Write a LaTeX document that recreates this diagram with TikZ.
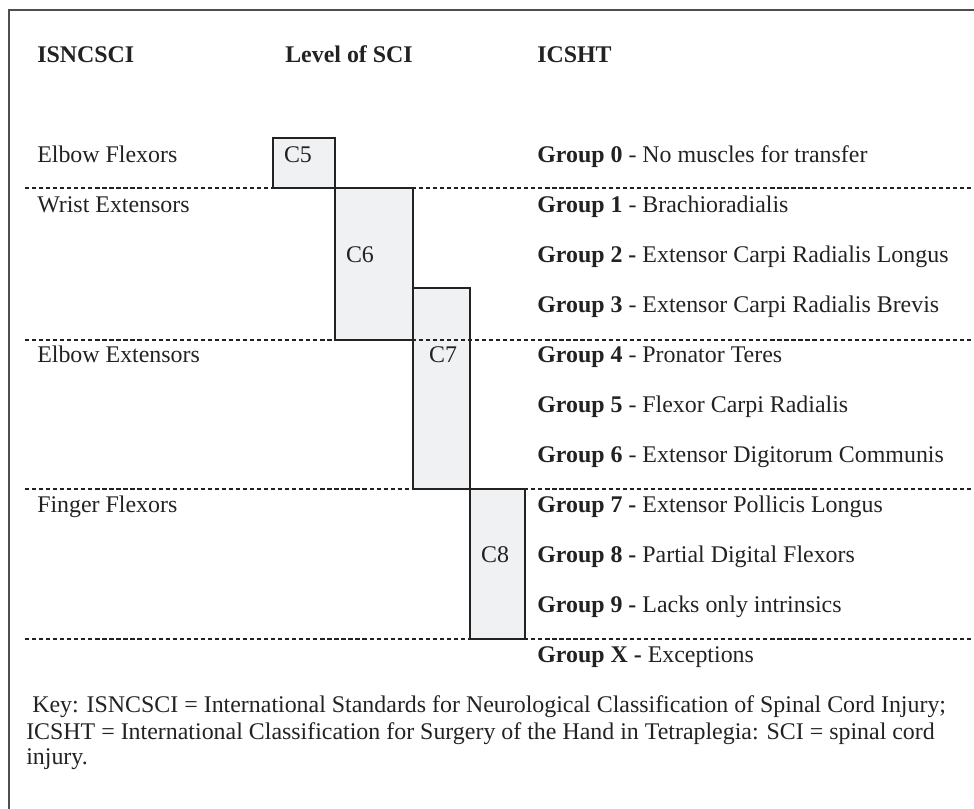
\documentclass[tikz,border=0pt]{standalone}
\usepackage{fontspec}
\setmainfont{Liberation Serif}
\usetikzlibrary{positioning}
\definecolor{boxfill}{HTML}{F0F1F3}
\definecolor{ink}{HTML}{222222}

\begin{document}
\begin{tikzpicture}[x=0.025cm,y=-0.025cm,
   txt/.style={anchor=base west,inner sep=0pt,text=ink,font=\fontsize{17}{20}\selectfont},
   hdr/.style={txt,font=\fontsize{17}{20}\selectfont\bfseries},
   lvl/.style={anchor=base,inner sep=0pt,text=ink,font=\fontsize{17}{20}\selectfont},
   levelbox/.style={draw=ink,line width=1.4pt,fill=boxfill},
   sep/.style={ink,line width=1pt,dash pattern=on 3pt off 2pt}]
   \useasboundingbox (0,0) rectangle (974,809);
   \draw[ink!80,line width=1pt] (9,809) -- (9,10) -- (974,10);

   % column heads
   \node[hdr] (isncsci) at (37,62)  {ISNCSCI};
   \node[hdr] (level)   at (285,62) {Level of SCI};
   \node[hdr] (icsht)   at (537,62) {ICSHT};

   % level boxes
   \draw[levelbox] (273,138) rectangle (335,188);
   \draw[levelbox] (335,188) rectangle (413,340);
   \draw[levelbox] (413,288) rectangle (470,489);
   \draw[levelbox] (470,489) rectangle (525,639);
   \node[lvl] (c5) at (298,162) {C5};
   \node[lvl] (c6) at (360,262) {C6};
   \node[lvl] (c7) at (443,362) {C7};
   \node[lvl] (c8) at (495,562) {C8};

   % separators
   \foreach \y in {188,340,489,639}
      \draw[sep] (25,\y) -- (974,\y);

   % muscle rows
   \node[txt] (elbowflex) at (37,162) {Elbow Flexors};
   \node[txt] (wristext)  at (37,212) {Wrist Extensors};
   \node[txt] (elbowext)  at (37,362) {Elbow Extensors};
   \node[txt] (fingflex)  at (37,512) {Finger Flexors};

   % ICSHT groups
   \foreach \g/\d [count=\i from 0] in {0/ - No muscles for transfer,
         1/ - Brachioradialis,
         2/ \textbf{-} Extensor Carpi Radialis Longus,
         3/ - Extensor Carpi Radialis Brevis,
         4/ - Pronator Teres,
         5/ - Flexor Carpi Radialis,
         6/ - Extensor Digitorum Communis,
         7/ \textbf{-} Extensor Pollicis Longus,
         8/ \textbf{-} Partial Digital Flexors,
         9/ \textbf{-} Lacks only intrinsics,
         X/ \textbf{-} Exceptions}
      \node[txt] (group\g) at (537,162+50*\i) {\textbf{Group \g}\d};

   % key
   \node[txt] (key1) at (32,712) {Key: ISNCSCI = International Standards for Neurological Classification of Spinal Cord Injury;};
   \node[txt] (key2) at (26,739) {ICSHT = International Classification for Surgery of the Hand in Tetraplegia: SCI = spinal cord};
   \node[txt] (key3) at (26,764) {injury.};
\end{tikzpicture}
\end{document}
